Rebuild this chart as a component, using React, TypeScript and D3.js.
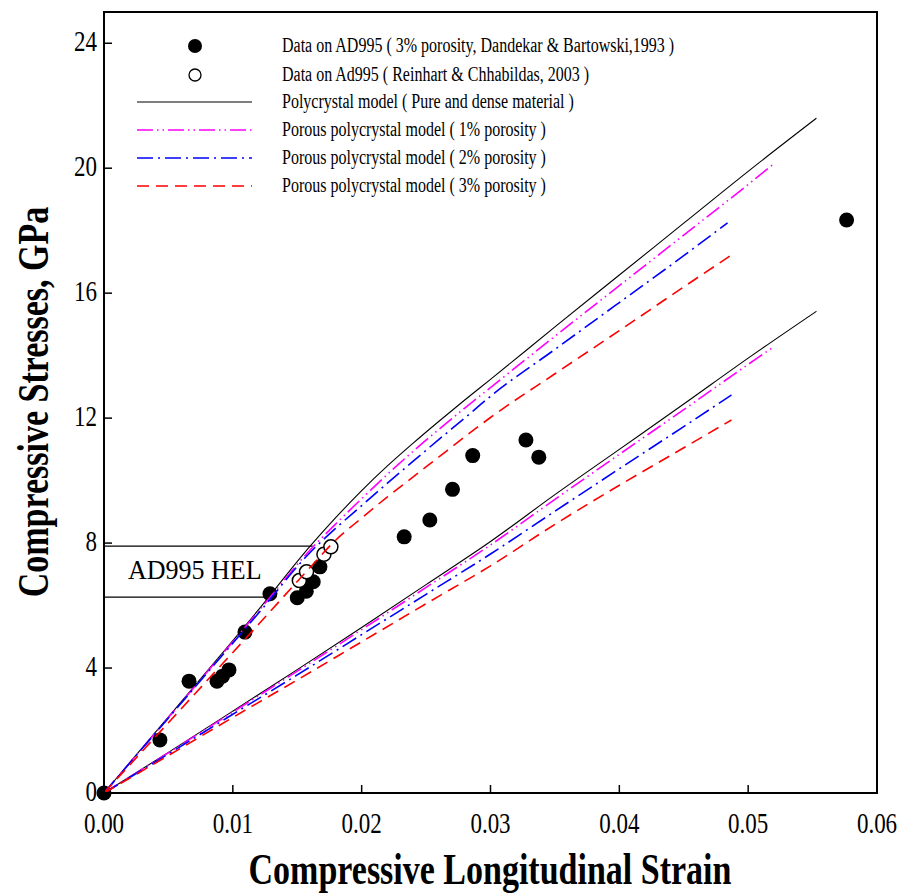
import React from 'react';
import * as d3 from 'd3';

// strain (-) vs compressive stress (GPa)
const pureUpper: [number, number][] = [
  [0, 0], [0.004, 1.95], [0.008, 3.9], [0.012, 5.87], [0.016, 7.9], [0.018, 8.82],
  [0.02, 9.68], [0.022, 10.47], [0.024, 11.2], [0.026, 11.9], [0.028, 12.58],
  [0.03, 13.24], [0.035, 14.92], [0.04, 16.58], [0.045, 18.24], [0.05, 19.9], [0.0553, 21.6],
];
const pureLower: [number, number][] = [
  [0, 0], [0.005, 1.3], [0.01, 2.62], [0.015, 3.95], [0.02, 5.3], [0.025, 6.67],
  [0.03, 8.05], [0.035, 9.55], [0.04, 11.0], [0.045, 12.45], [0.05, 13.92], [0.0553, 15.42],
];
const por1Upper: [number, number][] = [
  [0, 0], [0.004, 1.93], [0.008, 3.87], [0.012, 5.82], [0.016, 7.78], [0.018, 8.62],
  [0.02, 9.42], [0.022, 10.2], [0.024, 10.94], [0.026, 11.64], [0.028, 12.32],
  [0.03, 12.98], [0.035, 14.62], [0.04, 16.24], [0.045, 17.86], [0.05, 19.48], [0.0521, 20.18],
];
const por1Lower: [number, number][] = [
  [0, 0], [0.005, 1.29], [0.01, 2.59], [0.015, 3.9], [0.02, 5.23], [0.025, 6.58],
  [0.03, 7.94], [0.035, 9.4], [0.04, 10.84], [0.045, 12.27], [0.05, 13.72], [0.0518, 14.23],
];
const por2Upper: [number, number][] = [
  [0, 0], [0.004, 1.92], [0.008, 3.84], [0.012, 5.76], [0.016, 7.7], [0.018, 8.48],
  [0.02, 9.2], [0.022, 9.92], [0.024, 10.62], [0.026, 11.32], [0.028, 12.0],
  [0.03, 12.7], [0.035, 14.2], [0.04, 15.7], [0.045, 17.2], [0.0484, 18.25],
];
const por2Lower: [number, number][] = [
  [0, 0], [0.005, 1.25], [0.01, 2.52], [0.015, 3.78], [0.02, 5.07], [0.025, 6.36],
  [0.03, 7.65], [0.035, 9.02], [0.04, 10.38], [0.045, 11.73], [0.0487, 12.74],
];
const por3Upper: [number, number][] = [
  [0, 0], [0.004, 1.8], [0.008, 3.6], [0.012, 5.4], [0.016, 7.22], [0.018, 8.1],
  [0.02, 8.8], [0.022, 9.48], [0.024, 10.12], [0.026, 10.76], [0.028, 11.4],
  [0.03, 12.02], [0.035, 13.42], [0.04, 14.8], [0.045, 16.2], [0.0487, 17.22],
];
const por3Lower: [number, number][] = [
  [0, 0], [0.005, 1.2], [0.01, 2.42], [0.015, 3.62], [0.02, 4.84], [0.025, 6.06],
  [0.03, 7.27], [0.035, 8.6], [0.04, 9.85], [0.045, 11.05], [0.0487, 11.94],
];

// AD995, 3% porosity (Dandekar & Bartowski)
const dandekar: [number, number][] = [
  [0, 0], [0.00434, 1.7], [0.0066, 3.58], [0.00877, 3.58], [0.0092, 3.74], [0.0097, 3.94],
  [0.01094, 5.15], [0.01288, 6.38], [0.01500, 6.25], [0.0157, 6.46], [0.01624, 6.76],
  [0.01676, 7.24], [0.0233, 8.2], [0.02529, 8.74], [0.02705, 9.72], [0.02862, 10.8],
  [0.03275, 11.3], [0.03375, 10.75], [0.05764, 18.34],
];
// Reinhart & Chhabildas
const reinhart: [number, number][] = [
  [0.01516, 6.8], [0.01572, 7.08], [0.01707, 7.64], [0.01761, 7.88],
];

const helStress = [7.9, 6.27];
const helStrainEnd = [0.0162, 0.01265];

const xTicks = [0, 0.01, 0.02, 0.03, 0.04, 0.05, 0.06];
const yTicks = [0, 4, 8, 12, 16, 20, 24];

const legendLabels = [
  'Data on AD995 ( 3% porosity, Dandekar & Bartowski,1993 )',
  'Data on Ad995 ( Reinhart & Chhabildas, 2003 )',
  'Polycrystal model ( Pure and dense material )',
  'Porous polycrystal model ( 1% porosity )',
  'Porous polycrystal model ( 2% porosity )',
  'Porous polycrystal model ( 3% porosity )',
];

const serif = '"Liberation Serif", "Times New Roman", serif';

const curveStyles = [
  { color: '#000000', dash: '', width: 1.1 },
  { color: '#ff00ff', dash: '16 4 1.5 4 1.5 4', width: 1.6 },
  { color: '#0000ff', dash: '16 5 2 5', width: 1.6 },
  { color: '#ff0000', dash: '12 7', width: 1.6 },
];

export default function App() {
  const W = 900, H = 894;
  const x = d3.scaleLinear().domain([0, 0.06]).range([104, 877]);
  const y = d3.scaleLinear().domain([0, 25]).range([793, 12]);
  const line = d3.line<[number, number]>()
    .x(d => x(d[0])).y(d => y(d[1]))
    .curve(d3.curveMonotoneX);

  const curves = [
    { data: [pureUpper, pureLower], s: curveStyles[0] },
    { data: [por1Upper, por1Lower], s: curveStyles[1] },
    { data: [por2Upper, por2Lower], s: curveStyles[2] },
    { data: [por3Upper, por3Lower], s: curveStyles[3] },
  ];

  const legendY = [46, 75, 102, 130, 158, 186];

  return (
    <svg width={W} height={H} style={{ position: 'absolute', left: 0, top: 0, background: '#fff' }}
      fontFamily={serif}>
      <rect width={W} height={H} fill="#fff" />

      {/* HEL box */}
      {helStress.map((s, i) => (
        <line key={i} x1={x(0)} x2={x(helStrainEnd[i])} y1={y(s)} y2={y(s)} stroke="#000" strokeWidth={1.2} />
      ))}
      <text transform="translate(128,579) scale(1.04,1.08)" fontSize={25}>AD995 HEL</text>

      {/* data */}
      {dandekar.map((d, i) => (
        <circle key={'f' + i} cx={x(d[0])} cy={y(d[1])} r={7.5} fill="#000" />
      ))}
      {reinhart.map((d, i) => (
        <circle key={'o' + i} cx={x(d[0])} cy={y(d[1])} r={7} fill="#fff" stroke="#000" strokeWidth={1.5} />
      ))}

      {/* model curves */}
      {curves.map((c, i) => c.data.map((d, j) => (
        <path key={i + '-' + j} d={line(d) || ''} fill="none" stroke={c.s.color}
          strokeWidth={c.s.width} strokeDasharray={c.s.dash} />
      )))}

      {/* frame */}
      <rect x={104} y={12} width={773} height={781} fill="none" stroke="#000" strokeWidth={2} />
      {xTicks.slice(1, -1).map(t => (
        <line key={'xt' + t} x1={x(t)} x2={x(t)} y1={793} y2={785} stroke="#000" strokeWidth={1.5} />
      ))}
      {yTicks.slice(1).map(t => (
        <line key={'yt' + t} x1={104} x2={112} y1={y(t)} y2={y(t)} stroke="#000" strokeWidth={1.5} />
      ))}
      {xTicks.map(t => (
        <text key={'xl' + t} transform={`translate(${x(t)},833) scale(1,1.25)`} textAnchor="middle" fontSize={23}>
          {t.toFixed(2)}
        </text>
      ))}
      {yTicks.map(t => (
        <text key={'yl' + t} transform={`translate(97,${y(t) + 8}) scale(1,1.25)`} textAnchor="end" fontSize={23}>
          {t}
        </text>
      ))}

      {/* axis titles */}
      <text transform="translate(490,884) scale(1,1.3)" textAnchor="middle" fontSize={34} fontWeight="bold">
        Compressive Longitudinal Strain
      </text>
      <text transform="translate(48,402) rotate(-90) scale(1,1.3)" textAnchor="middle" fontSize={34} fontWeight="bold">
        Compressive Stresses, GPa
      </text>

      {/* legend */}
      <circle cx={195} cy={legendY[0]} r={7} fill="#000" />
      <circle cx={195} cy={legendY[1]} r={6} fill="#fff" stroke="#000" strokeWidth={1.3} />
      {curveStyles.map((s, i) => (
        <line key={'ll' + i} x1={137} x2={252} y1={legendY[i + 2]} y2={legendY[i + 2]}
          stroke={s.color} strokeWidth={s.width} strokeDasharray={s.dash} />
      ))}
      {legendLabels.map((l, i) => (
        <text key={'lt' + i} transform={`translate(282,${legendY[i] + 6}) scale(1,1.25)`} fontSize={16}>{l}</text>
      ))}
    </svg>
  );
}
